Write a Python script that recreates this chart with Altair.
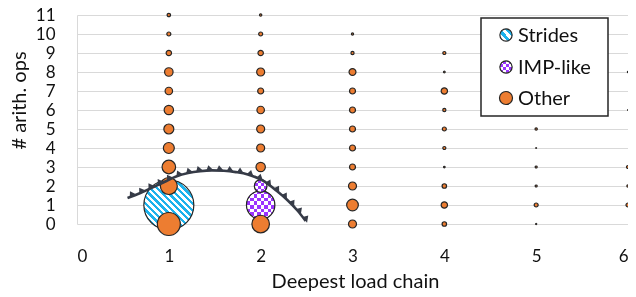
import altair as alt
import pandas as pd
import numpy as np

# ---------------- data ----------------
# "Other" bubbles: deepest load chain (x), # arith ops (y), bubble value (area-proportional)
other_x = [1,1,1,1,1,1,1,1,1,1,1,
           2,2,2,2,2,2,2,2,2,2,
           3,3,3,3,3,3,3,3,3,3,3,
           4,4,4,4,4,4,4,4,4,4,
           5,5,5,5,5,5,5,
           6,6,6,6,6]
other_y = [0,2,3,4,5,6,7,8,9,10,11,
           0,3,4,5,6,7,8,9,10,11,
           0,1,2,3,4,5,6,7,8,9,10,
           0,1,2,3,4,5,6,7,8,9,
           0,1,2,3,4,5,6,
           1,2,3,6,8]
other_v = [132,72,46,30,25,22,14,18,7.3,4,2.9,
           77,22,16,16,14,9,16,7.3,4,1.4,
           16,34,16,9,9,9,9,9,12,2.5,1.2,
           5,10,5,0.6,2.3,4,2.5,10,0.7,2.3,
           0.3,4,1,1,0.15,1.4,0.1,
           4,1.4,2.3,0.15,0.4]

strides_x = [1]
strides_y = [1]
strides_v = [625]

imp_x = [2, 2]
imp_y = [1, 2]
imp_v = [202, 40]

# annotation arc (data coordinates)
arc_x = [0.55,0.69,0.82,0.95,1.08,1.21,1.34,1.47,1.60,1.73,1.86,2.02,2.17,2.29,2.40,2.49]
arc_y = [1.37,1.63,1.92,2.21,2.50,2.68,2.78,2.82,2.80,2.73,2.61,2.29,1.76,1.26,0.71,0.16]

x_ticks = [0, 1, 2, 3, 4, 5, 6]
y_ticks = list(range(0, 12))
legend_labels = ["Strides", "IMP-like", "Other"]

# ---------------- styling ----------------
FONT = "Lato"
ORANGE = "#ED7D31"
BLUE = "#1DB2EC"
PURPLE = (155, 51, 255)
PURPLE_COMP = "#%02x%02x%02x" % tuple(255 - c for c in PURPLE)
EDGE = "#262626"
ARC = "#363b47"
W, H = 551, 209
SX, SY = W / 6, H / 11

def stripes(c1, c2, n, x1, y1, x2, y2):
    stops = []
    for k in range(n):
        a, b, c = k / n, (k + 0.5) / n, (k + 1) / n
        stops += [{"offset": a, "color": c1}, {"offset": b, "color": c1},
                  {"offset": b, "color": c2}, {"offset": c, "color": c2}]
    return {"gradient": "linear", "x1": x1, "y1": y1, "x2": x2, "y2": y2, "stops": stops}

size_scale = alt.Scale(domain=[0, 625], range=[0, 2500])

x_axis = alt.Axis(values=x_ticks, title="Deepest load chain", grid=False, ticks=False, tickSize=0,
                  domain=False, labelFontSize=17, labelFont=FONT, labelColor="#111",
                  labelPadding=24, titleFont=FONT, titleFontSize=20, titleFontWeight="normal",
                  titleColor="#111", titleBaseline="alphabetic", titleY=63, titleX=278,
                  titleAlign="center")
y_axis = alt.Axis(values=y_ticks, title="# arith. ops", grid=True, gridColor="#d9d9d9",
                  gridWidth=1, ticks=False, tickSize=0, domain=True, domainColor="#d9d9d9",
                  labelFontSize=17, labelFont=FONT, labelColor="#111", labelPadding=22,
                  titleFont=FONT, titleFontSize=20, titleFontWeight="normal", titleColor="#111",
                  titleAngle=270, titleAlign="center", titleBaseline="middle",
                  titleX=-58, titleY=85)

def X(f):
    return alt.X(f"{f}:Q", scale=alt.Scale(domain=[0, 6], nice=False, zero=False), axis=x_axis)

def Y(f):
    return alt.Y(f"{f}:Q", scale=alt.Scale(domain=[0, 11], nice=False, zero=False), axis=y_axis)

other_df = pd.DataFrame({"x": other_x, "y": other_y, "v": other_v})
strides_df = pd.DataFrame({"x": strides_x, "y": strides_y, "v": strides_v})
imp_df = pd.DataFrame({"x": imp_x, "y": imp_y, "v": imp_v})
arc_df = pd.DataFrame({"x": arc_x, "y": arc_y})

# triangles along the arc (derived from arc points)
px = np.array(arc_x) * SX
py = -np.array(arc_y) * SY
seg = np.hypot(np.diff(px), np.diff(py))
cum = np.concatenate([[0], np.cumsum(seg)])
ss = np.arange(6, cum[-1] - 1, 10.2)
idx = np.clip(np.searchsorted(cum, ss) - 1, 0, len(seg) - 1)
tx = np.interp(ss, cum, px)
ty = np.interp(ss, cum, py)
ang = np.degrees(np.arctan2(np.diff(py)[idx], np.diff(px)[idx])) % 360
tri_df = pd.DataFrame({"x": tx / SX, "y": -ty / SY, "a": ang})

TRI = "M -1 0 L 1 0 L -0.35 -1.5 Z"

layers = []

strides_enc = dict(x=X("x"), y=Y("y"), size=alt.Size("v:Q", scale=size_scale, legend=None))
layers.append(alt.Chart(strides_df).mark_point(
    shape="circle", filled=True, opacity=1,
    fill=stripes(BLUE, "#ffffff", 15, 0, 1, 1, 0), stroke=EDGE, strokeWidth=1.2
).encode(**strides_enc))

def imp_stack(data, n, enc):
    out = []
    out.append(alt.Chart(data).mark_point(shape="circle", filled=True, opacity=1, strokeWidth=0,
        fill=stripes(PURPLE_COMP, "#000000", n, 0, 0, 0, 1)).encode(**enc))
    out.append(alt.Chart(data).mark_point(shape="circle", filled=True, opacity=1, strokeWidth=0,
        blend="difference", fill=stripes(PURPLE_COMP, "#000000", n, 0, 0, 1, 0)).encode(**enc))
    out.append(alt.Chart(data).mark_point(shape="circle", filled=True, opacity=1, strokeWidth=0,
        blend="difference", fill="#ffffff").encode(**enc))
    out.append(alt.Chart(data).mark_point(shape="circle", filled=False, opacity=1,
        stroke=EDGE, strokeWidth=1.2).encode(**enc))
    return out

for i in range(len(imp_x)):
    row = imp_df.iloc[[i]]
    diam = 2 * np.sqrt(imp_v[i])
    n = max(2, int(round(diam / 7)))
    enc = dict(x=X("x"), y=Y("y"), size=alt.Size("v:Q", scale=size_scale, legend=None))
    layers += imp_stack(row, n, enc)

layers.append(alt.Chart(other_df).mark_point(
    shape="circle", filled=True, opacity=1, fill=ORANGE, stroke=EDGE, strokeWidth=1.2
).encode(x=X("x"), y=Y("y"), size=alt.Size("v:Q", scale=size_scale, legend=None)))

# arc annotation
layers.append(alt.Chart(arc_df).mark_line(color=ARC, strokeWidth=2.6, interpolate="monotone")
              .encode(x=X("x"), y=Y("y")))
layers.append(alt.Chart(tri_df).mark_point(shape=TRI, filled=True, opacity=1, fill=ARC,
              strokeWidth=0, size=52)
              .encode(x=X("x"), y=Y("y"), angle=alt.Angle("a:Q", scale=None)))

# manual legend (pixel positions inside plot)
one = pd.DataFrame({"k": [0]})
LX0, LX1, LY0, LY1 = 404, 531, 3, 101
SYM_X, TXT_X = 429, 441
SYM_Y = [20, 52, 83]
layers.append(alt.Chart(one).mark_rect(fill="white", stroke=EDGE, strokeWidth=1.5).encode(
    x=alt.value(LX0), x2=alt.value(LX1), y=alt.value(LY0), y2=alt.value(LY1)))
leg_enc0 = dict(x=alt.value(SYM_X), y=alt.value(SYM_Y[0]), size=alt.value(150))
layers.append(alt.Chart(one).mark_point(shape="circle", filled=True, opacity=1,
    fill=stripes(BLUE, "#ffffff", 3, 0, 1, 1, 0), stroke=EDGE, strokeWidth=1.2).encode(**leg_enc0))
leg_enc1 = dict(x=alt.value(SYM_X), y=alt.value(SYM_Y[1]), size=alt.value(150))
layers += imp_stack(one, 2, leg_enc1)
layers.append(alt.Chart(one).mark_point(shape="circle", filled=True, opacity=1,
    fill=ORANGE, stroke=EDGE, strokeWidth=1.2).encode(
    x=alt.value(SYM_X), y=alt.value(SYM_Y[2]), size=alt.value(170)))
for lab, yy in zip(legend_labels, SYM_Y):
    layers.append(alt.Chart(one).mark_text(align="left", baseline="middle", font=FONT,
        fontSize=20, color="#111").encode(x=alt.value(TXT_X), y=alt.value(yy + 1),
        text=alt.value(lab)))

chart = alt.layer(*layers).properties(
    width=W, height=H, autosize="none",
    padding={"left": 69, "top": 7, "right": 0, "bottom": 72},
    background="white",
).configure_view(stroke=None)

chart.save("out.html", embed_options={"renderer": "svg", "actions": False})
